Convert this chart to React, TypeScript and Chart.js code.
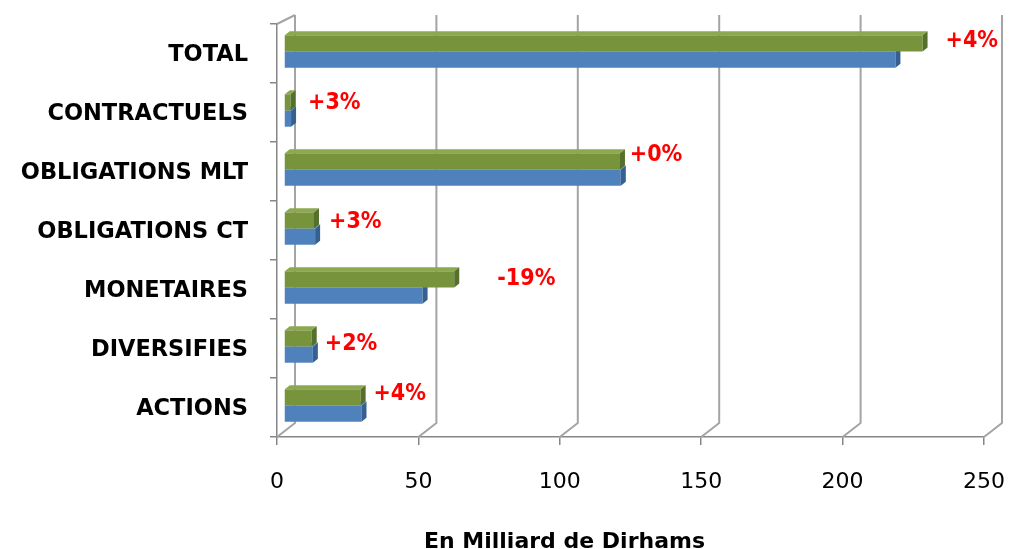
import React, { useEffect, useRef } from 'react';
import { Chart, registerables } from 'chart.js';

Chart.register(...registerables);

// ---- data ----
const categories = ['TOTAL', 'CONTRACTUELS', 'OBLIGATIONS MLT', 'OBLIGATIONS CT', 'MONETAIRES', 'DIVERSIFIES', 'ACTIONS'];
const seriesGreen = [225.8, 2.3, 118.8, 10.6, 60.2, 9.8, 27.1];
const seriesBlue = [216.2, 2.5, 119.1, 11.0, 49.0, 10.2, 27.4];
const changeLabels = ['+4%', '+3%', '+0%', '+3%', '-19%', '+2%', '+4%'];
const xTickValues = [0, 50, 100, 150, 200, 250];
const axisTitle = 'En Milliard de Dirhams';

// ---- style ----
const FONT = '"DejaVu Sans", sans-serif';
const FONT_COND = '"DejaVu Sans Condensed", "DejaVu Sans", sans-serif';
const labelDx = [23, 17, 9, 14, 43, 12, 12];
const labelDy = [-2, 1, -6, 2, 0, 6, -3];
const BAR_DX = 7;
const BAR_DY = -2;
const FACE_DX = 5;
const FACE_DY = 4;
const WALL_DX = 18;
const WALL_TOP_DY = 9;
const WALL_BOTTOM_DY = 14;
const faceColors = [
  { top: '#8CA94F', side: '#55702A' },
  { top: '#6E9BD1', side: '#36608F' },
];

const depthPlugin = {
  id: 'depth3d',
  beforeDatasetsDraw(chart: any) {
    const { ctx, chartArea, scales } = chart;
    const x = scales.x;
    ctx.save();
    ctx.strokeStyle = '#A4A4A4';
    ctx.lineWidth = 2;
    ctx.lineJoin = 'round';
    for (const v of xTickValues) {
      const fx = x.getPixelForValue(v);
      const bx = fx + WALL_DX;
      ctx.beginPath();
      ctx.moveTo(bx, chartArea.top - WALL_TOP_DY);
      ctx.lineTo(bx, chartArea.bottom - WALL_BOTTOM_DY);
      ctx.lineTo(fx, chartArea.bottom);
      ctx.stroke();
    }
    ctx.beginPath();
    ctx.moveTo(chartArea.left, chartArea.top);
    ctx.lineTo(chartArea.left + WALL_DX, chartArea.top - WALL_TOP_DY);
    ctx.stroke();
    ctx.restore();
    ctx.save();
    ctx.translate(BAR_DX, BAR_DY);
  },
  afterDatasetDraw(chart: any, args: any) {
    const { ctx } = chart;
    const meta = args.meta;
    const colors = faceColors[args.index] || faceColors[0];
    meta.data.forEach((el: any) => {
      const p = el.getProps(['x', 'y', 'base', 'height'], true);
      const left = Math.min(p.base, p.x);
      const right = Math.max(p.base, p.x);
      const top = p.y - p.height / 2;
      const bottom = p.y + p.height / 2;
      ctx.fillStyle = colors.top;
      ctx.beginPath();
      ctx.moveTo(left, top);
      ctx.lineTo(left + FACE_DX, top - FACE_DY);
      ctx.lineTo(right + FACE_DX, top - FACE_DY);
      ctx.lineTo(right, top);
      ctx.closePath();
      ctx.fill();
      ctx.fillStyle = colors.side;
      ctx.beginPath();
      ctx.moveTo(right, top);
      ctx.lineTo(right + FACE_DX, top - FACE_DY);
      ctx.lineTo(right + FACE_DX, bottom - FACE_DY);
      ctx.lineTo(right, bottom);
      ctx.closePath();
      ctx.fill();
    });
  },
  afterDatasetsDraw(chart: any) {
    const { ctx } = chart;
    ctx.restore();
    const green = chart.getDatasetMeta(0).data;
    const blue = chart.getDatasetMeta(1).data;
    ctx.save();
    ctx.font = `bold 23px ${FONT_COND}`;
    ctx.fillStyle = '#FF0000';
    ctx.textAlign = 'left';
    ctx.textBaseline = 'middle';
    changeLabels.forEach((txt, i) => {
      const g = green[i];
      const b = blue[i];
      if (!g || !b) return;
      const end = Math.max(g.x, b.x) + BAR_DX;
      ctx.fillText(txt, end + labelDx[i], g.y + BAR_DY + labelDy[i]);
    });
    ctx.restore();
  },
  afterDraw(chart: any) {
    const { ctx, chartArea } = chart;
    ctx.save();
    ctx.font = `bold 22px ${FONT}`;
    ctx.fillStyle = '#000000';
    ctx.textAlign = 'center';
    ctx.textBaseline = 'middle';
    const cx = (chartArea.left + chartArea.right) / 2 - 66;
    ctx.fillText(axisTitle, cx, chartArea.bottom + 105);
    ctx.restore();
  },
};

export default function App() {
  const canvasRef = useRef<HTMLCanvasElement | null>(null);

  useEffect(() => {
    if (!canvasRef.current) return;
    const chart = new Chart(canvasRef.current, {
      type: 'bar',
      data: {
        labels: categories,
        datasets: [
          {
            label: 'Série 2',
            data: seriesGreen,
            backgroundColor: '#77933C',
            borderWidth: 0,
            categoryPercentage: 0.55,
            barPercentage: 1.0,
          },
          {
            label: 'Série 1',
            data: seriesBlue,
            backgroundColor: '#4F81BD',
            borderWidth: 0,
            categoryPercentage: 0.55,
            barPercentage: 1.0,
          },
        ],
      },
      options: {
        indexAxis: 'y',
        responsive: false,
        animation: false,
        layout: { padding: { top: 24, right: 28, left: 0, bottom: 0 } },
        plugins: {
          legend: { display: false },
          tooltip: { enabled: false },
          title: { display: false },
        },
        scales: {
          x: {
            type: 'linear',
            min: 0,
            max: 250,
            afterBuildTicks: (s: any) => {
              s.ticks = xTickValues.map((v) => ({ value: v }));
            },
            ticks: {
              font: { family: FONT, size: 22 },
              color: '#000000',
              padding: 24,
              maxRotation: 0,
            },
            grid: {
              drawOnChartArea: false,
              drawTicks: true,
              tickLength: 8,
              color: '#868686',
              lineWidth: 1.5,
            },
            border: { display: true, color: '#868686', width: 1.5 },
            afterFit: (s: any) => {
              s.height = 112;
              s.paddingLeft = 0;
              s.paddingRight = 0;
            },
          },
          y: {
            type: 'category',
            ticks: {
              font: { family: FONT, size: 22.5, weight: 'bold' },
              color: '#000000',
              padding: 22,
              labelOffset: 2,
            },
            grid: {
              offset: true,
              drawOnChartArea: false,
              drawTicks: true,
              tickLength: 7,
              color: '#868686',
              lineWidth: 1.5,
            },
            border: { display: true, color: '#868686', width: 1.5 },
            afterFit: (s: any) => {
              s.width = 277;
              s.paddingTop = 0;
              s.paddingBottom = 0;
            },
          },
        },
      } as any,
      plugins: [depthPlugin],
    });
    return () => chart.destroy();
  }, []);

  return (
    <div style={{ position: 'fixed', left: 0, top: 0, width: 1012, height: 549, background: '#ffffff' }}>
      <canvas ref={canvasRef} width={1012} height={549} style={{ display: 'block' }} />
    </div>
  );
}
